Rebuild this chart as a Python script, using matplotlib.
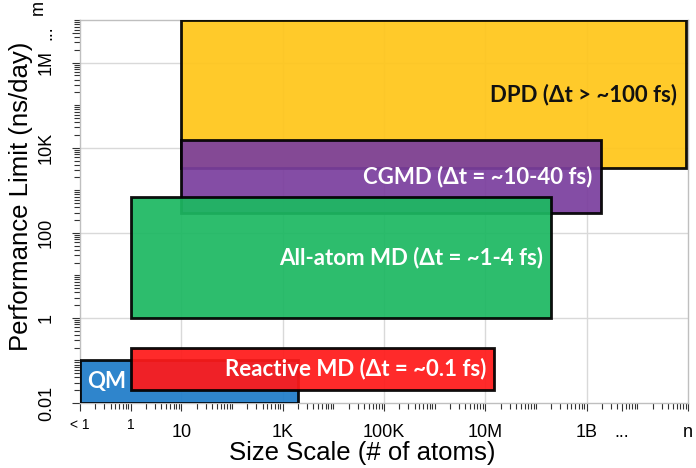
import matplotlib
matplotlib.use("Agg")
import matplotlib.pyplot as plt
from matplotlib.patches import Rectangle
from matplotlib.ticker import FixedLocator, LogLocator, NullFormatter

# methods: name, x range (atoms), y range (ns/day), colour, label colour
methods = ["DPD", "CGMD", "All-atom MD", "QM", "Reactive MD"]
labels = ["DPD (\u0394t > ~100 fs)", "CGMD (\u0394t = ~10-40 fs)",
          "All-atom MD (\u0394t = ~1-4 fs)", "QM", "Reactive MD (\u0394t = ~0.1 fs)"]
x_lo = [10, 10, 1, 0.1, 1]
x_hi = [9e10, 1.9e9, 2e8, 2000, 1.5e7]
y_lo = [3300, 300, 1, 0.01, 0.02]
y_hi = [1e7, 1.5e4, 700, 0.1, 0.2]
colors = ["#ffc61a", "#7b3f9e", "#1db862", "#1f7cc9", "#ff1a1a"]
text_colors = ["#111111", "white", "white", "white", "white"]

x_ticks = [0.1, 1, 10, 1e3, 1e5, 1e7, 1e9, 5e9, 1e11]
x_tick_labels = ["< 1", "1", "10", "1K", "100K", "10M", "1B", "...", "n"]
y_ticks = [0.01, 1, 100, 1e4, 1e6, 5e6]
y_tick_labels = ["0.01", "1", "100", "10K", "1M", "..."]

fig = plt.figure(figsize=(6.96, 4.68), dpi=100)
ax = fig.add_axes([0.115, 0.139, 0.8735, 0.818])
ax.set_xscale("log")
ax.set_yscale("log")
ax.set_xlim(0.1, 1e11)
ax.set_ylim(0.01, 1e7)

for i in range(len(methods)):
    r = Rectangle((x_lo[i], y_lo[i]), x_hi[i] - x_lo[i], y_hi[i] - y_lo[i],
                  facecolor=colors[i], edgecolor="black", linewidth=2,
                  alpha=0.93, zorder=3 + i)
    ax.add_patch(r)
    ymid = (y_lo[i] * y_hi[i]) ** 0.5
    if methods[i] == "QM":
        ax.annotate(labels[i], xy=(x_lo[i], ymid), xytext=(5, 0),
                    textcoords="offset points", ha="left", va="center",
                    color=text_colors[i], fontsize=16, fontweight="bold",
                    family="Lato", zorder=20)
    else:
        ax.annotate(labels[i], xy=(x_hi[i], ymid), xytext=(-6, 0),
                    textcoords="offset points", ha="right", va="center",
                    color=text_colors[i], fontsize=16, fontweight="bold",
                    family="Lato", zorder=20)

ax.xaxis.set_major_locator(FixedLocator(x_ticks))
ax.set_xticklabels(x_tick_labels)
ax.yaxis.set_major_locator(FixedLocator(y_ticks))
ax.set_yticklabels(y_tick_labels, rotation=90, va="center")
ax.xaxis.set_minor_locator(LogLocator(base=10, subs=range(1, 10), numticks=100))
ax.yaxis.set_minor_locator(LogLocator(base=10, subs=range(1, 10), numticks=100))
ax.xaxis.set_minor_formatter(NullFormatter())
ax.yaxis.set_minor_formatter(NullFormatter())

ax.tick_params(which="both", direction="out", color="#333333", width=0.8)
ax.tick_params(which="major", length=6)
ax.tick_params(which="minor", length=4)
ax.tick_params(axis="x", which="major", labelsize=13, pad=9)
ax.tick_params(axis="y", which="major", labelsize=13, pad=12)
for lab in ax.get_xticklabels() + ax.get_yticklabels():
    lab.set_family("Liberation Sans")

ax.grid(True, which="major", color="#d9d9d9", linewidth=1, zorder=0)
ax.set_axisbelow(True)
for i, t in enumerate(ax.xaxis.get_major_ticks()):
    if x_tick_labels[i] in ("< 1", "1", "...", "n"):
        t.gridline.set_visible(False)
    if x_tick_labels[i] in ("< 1", "1"):
        t.label1.set_fontsize(10)
        t.set_pad(5)
for i, t in enumerate(ax.yaxis.get_major_ticks()):
    if y_tick_labels[i] in ("0.01", "..."):
        t.gridline.set_visible(False)

ax.annotate("m", xy=(0, 2e7), xycoords=("axes fraction", "data"),
            xytext=(-30, 0), textcoords="offset points", rotation=90,
            ha="center", va="center", fontsize=13, family="Liberation Sans",
            annotation_clip=False)

for s in ax.spines.values():
    s.set_color("#bfbfbf")
    s.set_linewidth(1)

ax.set_xlabel("Size Scale (# of atoms)", fontsize=18.5, family="Liberation Sans")
ax.set_ylabel("Performance Limit (ns/day)", fontsize=18.5, family="Liberation Sans")
ax.xaxis.set_label_coords(0.465, -0.1)
ax.yaxis.set_label_coords(-0.078, 0.54)

fig.savefig("out.png", dpi=100)
